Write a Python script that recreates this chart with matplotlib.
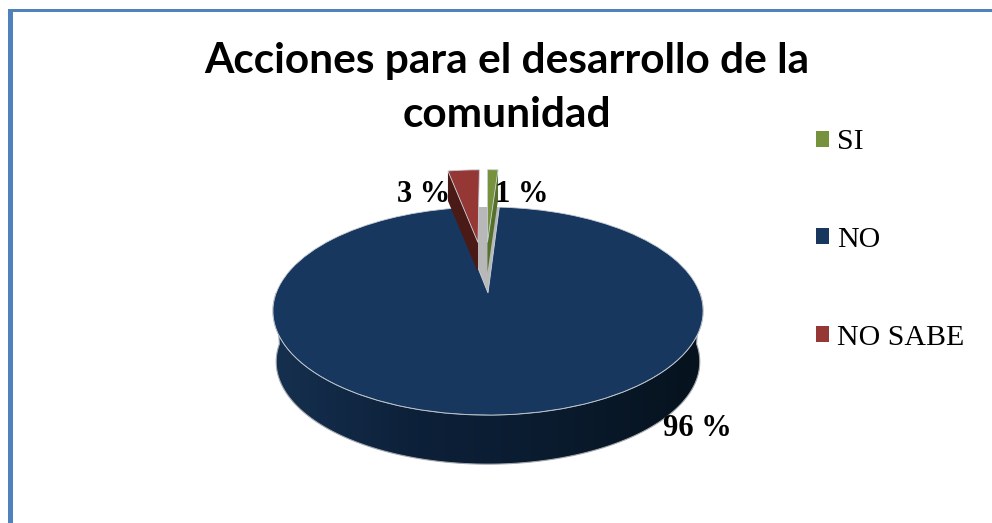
import numpy as np
import matplotlib
matplotlib.use("Agg")
import matplotlib.pyplot as plt
from matplotlib.colors import LinearSegmentedColormap
from matplotlib.patches import Patch, PathPatch, Rectangle, Wedge
from matplotlib.path import Path
from matplotlib.transforms import Transform

title = "Acciones para el desarrollo de la\ncomunidad"
categories = ["SI", "NO", "NO SABE"]
values = [1, 96, 3]
valueLabels = ["1 %", "96 %", "3 %"]
colors = ["#76923c", "#17375e", "#953735"]
sideColors = ["#55702a", "#17375e", "#4a1a16"]
explode = [0.55, 0, 0.55]

# centre of the disc in pixels, the ellipse is not symmetric around it (perspective)
centerX = 488
centerY = 293
wallDepth = 51


class Perspective(Transform):
    input_dims = 2
    output_dims = 2

    def __init__(self, shiftY=0.0, scale=1.0):
        super().__init__()
        self.shiftY = shiftY
        self.scale = scale

    def transform_non_affine(self, values):
        values = np.asarray(values, dtype=float)
        w = 1 + 0.173 * values[:, 1]
        x = centerX + self.scale * 211.8 * values[:, 0] / w
        y = centerY + self.shiftY - self.scale * 100.9 * values[:, 1] / w
        return np.column_stack([x, y])


fig = plt.figure(figsize=(9.92, 5.23), dpi=100)
ax = fig.add_axes([0, 0, 1, 1])

wedges, _ = ax.pie(values, colors=colors, explode=explode, startangle=90, counterclock=False,
                   wedgeprops={"edgecolor": "#c8d0d8", "linewidth": 0.6})
ax.set_aspect("auto")

top = Perspective()
base = Perspective(shiftY=wallDepth, scale=0.985)

# the green slice sits a bit more to the left than its explode direction gives
greenX, greenY = wedges[0].center
wedges[0].set_center((greenX - 0.02, greenY))

# outer wall, gradient clipped to the front part of the disc
angles = np.radians(np.linspace(180, 360, 120))
circle = np.column_stack([np.cos(angles), np.sin(angles)])
hull = np.vstack([top.transform(circle), base.transform(circle)[::-1]])
wallPath = Path(np.vstack([hull, hull[:1]]), closed=True)
wallCmap = LinearSegmentedColormap.from_list("wall", ["#15304f", "#0d2039", "#0a1b2e", "#06121d"])
gradient = ax.imshow(np.linspace(0, 1, 256).reshape(1, -1), cmap=wallCmap, aspect="auto",
                     extent=(273, 703, 470, 290), zorder=1)
gradient.set_clip_path(PathPatch(wallPath, transform=ax.transData))
ax.add_patch(PathPatch(wallPath, facecolor="none", edgecolor="#a3a8ad", linewidth=0.8, zorder=1.1))

ax.set_xlim(0, 992)
ax.set_ylim(523, 0)
ax.set_axis_off()

# grey inside of the notch left by the exploded slices
for index in [0, 2]:
    inner = Wedge((0, 0), 1, min(wedges[index].theta1, wedges[index].theta2),
                  max(wedges[index].theta1, wedges[index].theta2),
                  facecolor="#b8b8b8", edgecolor="none", zorder=2)
    ax.add_patch(inner)
    inner.set_transform(top + ax.transData)
    inner.set_clip_on(False)

wedges[1].set_zorder(3)

# side faces of the two exploded slices
sides = [(0, min(wedges[0].theta1, wedges[0].theta2)), (2, max(wedges[2].theta1, wedges[2].theta2))]
for index, angle in sides:
    cx, cy = wedges[index].center
    edge = np.array([[cx, cy], [cx + np.cos(np.radians(angle)), cy + np.sin(np.radians(angle))]])
    upper = top.transform(edge)
    lower = upper + [0, 30]
    ax.fill(np.r_[upper[:, 0], lower[::-1, 0]], np.r_[upper[:, 1], lower[::-1, 1]],
            color=sideColors[index], linewidth=0, zorder=4)

for wedge in wedges:
    wedge.set_transform(top + ax.transData)
    wedge.set_clip_on(False)
wedges[0].set_zorder(5)
wedges[2].set_zorder(5)

ax.text(507, 88, title, ha="center", va="center", fontsize=30.5, fontweight="bold",
        family="Lato", color="black", linespacing=1.5, zorder=8)

labelSpots = [(521.5, 195), (697, 428), (423.5, 195)]
for label, (x, y) in zip(valueLabels, labelSpots):
    ax.text(x, y, label, ha="center", va="center", fontsize=22, fontweight="bold",
            family="Liberation Serif", color="black", zorder=8)

handles = [Patch(facecolor=c, edgecolor="none") for c in colors]
ax.legend(handles, categories, loc="center left", bbox_to_anchor=(789, 240),
          bbox_transform=ax.transData, frameon=False, handlelength=0.45, handleheight=0.45,
          handletextpad=0.25, labelspacing=2.4,
          prop={"family": "Liberation Serif", "size": 21.5})

# blue frame, only top and left sides are inside the picture
ax.add_patch(Rectangle((8, 9), 984, 3, facecolor="#4f81bd", edgecolor="none", zorder=9))
ax.add_patch(Rectangle((8, 9), 5, 514, facecolor="#4f81bd", edgecolor="none", zorder=9))

fig.savefig("out.png", dpi=100)
